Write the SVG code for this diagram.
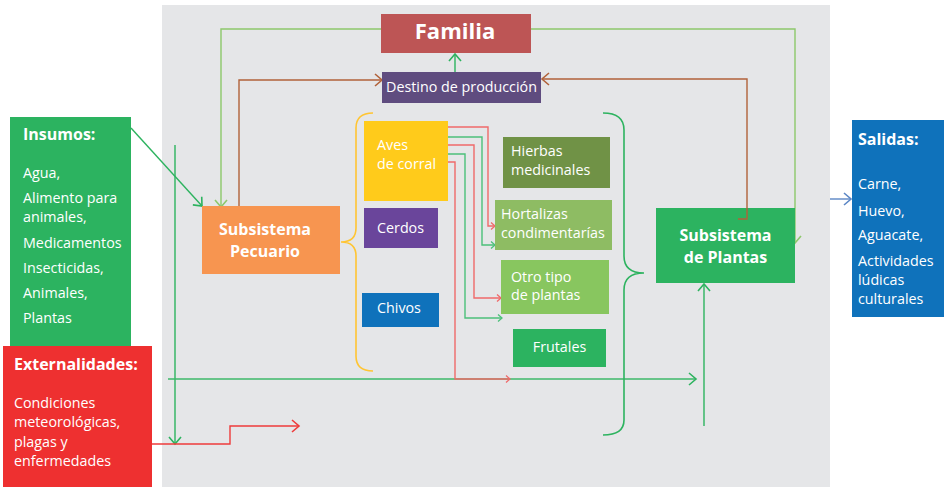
<svg xmlns="http://www.w3.org/2000/svg" width="946" height="487" viewBox="0 0 946 487">
<style>
text{font-family:"Open Sans","Noto Sans","Liberation Sans",sans-serif;fill:#fff}
.t{font-size:14.3px}
.b{font-weight:bold;font-size:16px}
.ln{fill:none;stroke-width:1.4}
.br{fill:none;stroke-width:1.6}
</style>
<defs>
<marker id="aG" markerUnits="userSpaceOnUse" markerWidth="12" markerHeight="16" viewBox="-9 -8 11 16" refX="0" refY="0" orient="auto"><path d="M-7,-6 L0,0 L-7,6" fill="none" stroke="#2DB35F" stroke-width="1.6"/></marker>
<marker id="aL" markerUnits="userSpaceOnUse" markerWidth="12" markerHeight="16" viewBox="-9 -8 11 16" refX="0" refY="0" orient="auto"><path d="M-7,-6 L0,0 L-7,6" fill="none" stroke="#8DC86B" stroke-width="1.6"/></marker>
<marker id="aB" markerUnits="userSpaceOnUse" markerWidth="12" markerHeight="16" viewBox="-9 -8 11 16" refX="0" refY="0" orient="auto"><path d="M-7,-6 L0,0 L-7,6" fill="none" stroke="#B1623A" stroke-width="1.6"/></marker>
<marker id="aR" markerUnits="userSpaceOnUse" markerWidth="12" markerHeight="16" viewBox="-9 -8 11 16" refX="0" refY="0" orient="auto"><path d="M-7,-6 L0,0 L-7,6" fill="none" stroke="#EE3B3B" stroke-width="1.6"/></marker>
<marker id="aU" markerUnits="userSpaceOnUse" markerWidth="12" markerHeight="16" viewBox="-9 -8 11 16" refX="0" refY="0" orient="auto"><path d="M-7,-6 L0,0 L-7,6" fill="none" stroke="#5B86C5" stroke-width="1.6"/></marker>
<marker id="sR" markerUnits="userSpaceOnUse" markerWidth="8" markerHeight="10" viewBox="-6 -5 7 10" refX="0" refY="0" orient="auto"><path d="M-4,-3.5 L0,0 L-4,3.5" fill="none" stroke="#F06A6A" stroke-width="1.3"/></marker>
<marker id="sG" markerUnits="userSpaceOnUse" markerWidth="8" markerHeight="10" viewBox="-6 -5 7 10" refX="0" refY="0" orient="auto"><path d="M-4,-3.5 L0,0 L-4,3.5" fill="none" stroke="#4CC07A" stroke-width="1.3"/></marker>
</defs>

<rect x="162" y="5" width="668" height="482" fill="#E5E6E8"/>

<g id="connectors">
<path class="ln" stroke="#2DB35F" d="M455,72 L455,54" marker-end="url(#aG)"/>
<path class="ln" stroke="#8DC86B" d="M381,29 L221,29 L221,207" marker-end="url(#aL)"/>
<path class="ln" stroke="#8DC86B" d="M531,29 L795,29 L795,243" marker-end="url(#aL)"/>
<path class="ln" stroke="#B1623A" d="M239,206 L239,80 L382,80" marker-end="url(#aB)"/>
<path class="ln" stroke="#2DB35F" d="M131,128 L202,206" marker-end="url(#aG)"/>
<path class="ln" stroke="#2DB35F" d="M175,145 L175,444" marker-end="url(#aG)"/>
<path class="ln" stroke="#3DB86A" d="M168,379 L696,379" marker-end="url(#aG)"/>
<path class="ln" stroke="#2DB35F" d="M704,426 L704,284" marker-end="url(#aG)"/>
<path class="ln" stroke="#EE3B3B" d="M152,444 L230,444 L230,426 L299,426" marker-end="url(#aR)"/>
<path class="ln" stroke="#5B86C5" d="M830,199 L851,199" marker-end="url(#aU)"/>
<path class="ln" stroke="#F06A6A" d="M448,127 L488,127 L488,226 L495,226" marker-end="url(#sR)"/>
<path class="ln" stroke="#4CC07A" d="M448,137 L482,137 L482,245 L495,245" marker-end="url(#sG)"/>
<path class="ln" stroke="#F06A6A" d="M448,145 L474,145 L474,298 L501,298" marker-end="url(#sR)"/>
<path class="ln" stroke="#4CC07A" d="M448,154 L465,154 L465,318 L502,318" marker-end="url(#sG)"/>
<path class="ln" stroke="#F06A6A" d="M448,162 L455,162 L455,379 L510,379" marker-end="url(#sR)"/>
<path class="br" stroke="#FFC533" d="M373,113 Q356,113 356,128 L356,228 Q356,242 341,242 Q356,242 356,256 L356,356 Q356,371 373,371"/>
<path class="br" stroke="#2DB35F" d="M603,113 Q624,113 624,130 L624,256 Q624,273 644,273 Q624,273 624,290 L624,420 Q624,435 603,435"/>
</g>

<g id="familia"><rect x="381" y="14" width="150" height="39" fill="#BD5555"/><text x="455" y="38.5" text-anchor="middle" font-weight="bold" font-size="22px">Familia</text></g>
<g id="destino"><rect x="382" y="72" width="159" height="31" fill="#5F4C7F"/><text class="t" x="461.5" y="92" text-anchor="middle">Destino de producción</text></g>

<g id="insumos"><rect x="10" y="117" width="121" height="230" fill="#2CB360"/>
<text class="b" x="23" y="140">Insumos:</text>
<text class="t" x="23" y="178">Agua,</text>
<text class="t" x="23" y="203">Alimento para</text>
<text class="t" x="23" y="222">animales,</text>
<text class="t" x="23" y="248">Medicamentos</text>
<text class="t" x="23" y="273">Insecticidas,</text>
<text class="t" x="23" y="298">Animales,</text>
<text class="t" x="23" y="323">Plantas</text></g>

<g id="externalidades"><rect x="3" y="346" width="149" height="141" fill="#EE3030"/>
<text class="b" x="14" y="370">Externalidades:</text>
<text class="t" x="14" y="408">Condiciones</text>
<text class="t" x="14" y="427">meteorológicas,</text>
<text class="t" x="14" y="447">plagas y</text>
<text class="t" x="14" y="466">enfermedades</text></g>

<g id="pecuario"><rect x="202" y="206" width="138" height="68" fill="#F79550"/>
<text class="b" x="265" y="235" text-anchor="middle">Subsistema</text>
<text class="b" x="265" y="257" text-anchor="middle">Pecuario</text></g>

<g id="aves"><rect x="364" y="121" width="84" height="80" fill="#FFCB1B"/><text class="t" x="377" y="150">Aves</text><text class="t" x="377" y="169">de corral</text></g>
<g id="cerdos"><rect x="364" y="208" width="74" height="40" fill="#6A459B"/><text class="t" x="377" y="233">Cerdos</text></g>
<g id="chivos"><rect x="362" y="293" width="77" height="34" fill="#0F72BB"/><text class="t" x="377" y="313">Chivos</text></g>

<g id="hierbas"><rect x="503" y="137" width="107" height="51" fill="#709246"/><text class="t" x="511" y="156">Hierbas</text><text class="t" x="511" y="175">medicinales</text></g>
<g id="hortalizas"><rect x="495" y="200" width="117" height="50" fill="#8EBC63"/><text class="t" x="501" y="219">Hortalizas</text><text class="t" x="501" y="238">condimentarías</text></g>
<g id="otro"><rect x="501" y="260" width="108" height="54" fill="#88C65F"/><text class="t" x="511" y="282">Otro tipo</text><text class="t" x="511" y="300">de plantas</text></g>
<g id="frutales"><rect x="513" y="329" width="93" height="38" fill="#2CB360"/><text class="t" x="559.5" y="352" text-anchor="middle">Frutales</text></g>

<g id="plantas"><rect x="656" y="208" width="139" height="75" fill="#2CB360"/>
<text class="b" x="725.5" y="241" text-anchor="middle">Subsistema</text>
<text class="b" x="725.5" y="263" text-anchor="middle">de Plantas</text></g>
<path class="ln" stroke="#B1623A" d="M738,219 L747,219 L747,79 L542,79" marker-end="url(#aB)"/>

<g id="salidas"><rect x="852" y="120" width="92" height="197" fill="#0F72BB"/>
<text class="b" x="858" y="145">Salidas:</text>
<text class="t" x="858" y="189">Carne,</text>
<text class="t" x="858" y="216">Huevo,</text>
<text class="t" x="858" y="240">Aguacate,</text>
<text class="t" x="858" y="266">Actividades</text>
<text class="t" x="858" y="285">lúdicas</text>
<text class="t" x="858" y="304">culturales</text></g>
</svg>
